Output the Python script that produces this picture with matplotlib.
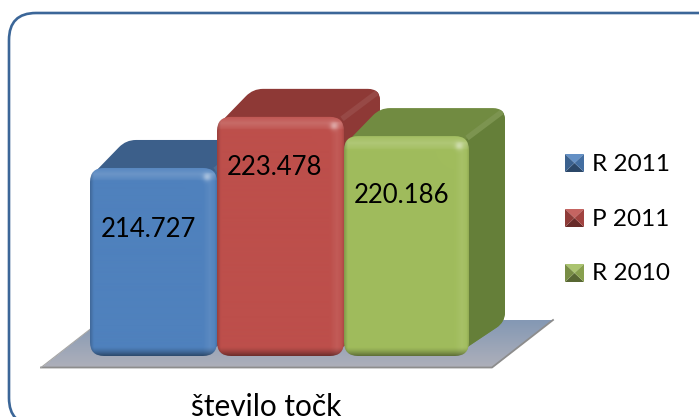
import numpy as np
import matplotlib
matplotlib.use('Agg')
import matplotlib.pyplot as plt
from matplotlib.patches import FancyBboxPatch, PathPatch, Polygon
from matplotlib.path import Path
from matplotlib.colors import to_rgb

plt.rcParams['font.family'] = ['Lato', 'DejaVu Sans']

category = 'število točk'
series = ['R 2011', 'P 2011', 'R 2010']
values = [214727, 223478, 220186]
value_labels = ['214.727', '223.478', '220.186']

front_cols = ['#4f81bd', '#bd4f4b', '#a0bc5c']
top_cols = ['#3c5f8a', '#8e3936', '#718b41']
side_cols = ['#3f6694', '#8e3936', '#657f39']

### The value axis is truncated: pixels per unit and the value at the bar foot
PX_PER_UNIT = 0.00584
BASE_VALUE = 182530
FOOT = 356
LEFT = [90, 217, 344]
WIDTH = [127, 127, 125]
DX, DY = 36, -28


def val_to_px(v):
    return FOOT - (v - BASE_VALUE) * PX_PER_UNIT


def rounded_path(pts, radii):
    ### Closed path through pts, corners rounded by quadratic curves
    verts, codes = [], []
    n = len(pts)
    for i in range(n):
        p = np.array(pts[i], float)
        a = np.array(pts[i - 1], float)
        b = np.array(pts[(i + 1) % n], float)
        r = radii[i]
        p1 = p + (a - p) / np.linalg.norm(a - p) * r
        p2 = p + (b - p) / np.linalg.norm(b - p) * r
        verts += [p1, p, p2]
        codes += [Path.MOVETO if i == 0 else Path.LINETO, Path.CURVE3, Path.CURVE3]
    verts.append(verts[0])
    codes.append(Path.CLOSEPOLY)
    return Path(verts, codes)


def lighter(col, f):
    c = np.array(to_rgb(col))
    return c + (1 - c) * f if f > 0 else c * (1 + f)


def draw_front(ax, x0, y0, w, h, col, zorder):
    ### Bevelled front face: shading from the distance to each edge
    xs = np.arange(0, w, 0.5) + 0.25
    ys = np.arange(0, h, 0.5) + 0.25
    X, Y = np.meshgrid(xs, ys)
    c = np.array(to_rgb(col))
    light = 0.13 * np.clip(1 - np.abs(Y - 7) / 7, 0, 1) + 0.03 * (Y < 13)
    light = light + 0.07 * np.clip(1 - np.abs(w - X - 7) / 7, 0, 1) * (Y > 6)
    dark = 0.42 * np.clip(1 - (h - Y) / 9, 0, 1) ** 1.4
    dark = dark + 0.20 * np.clip(1 - X / 4, 0, 1) + 0.10 * np.clip(1 - (w - X) / 2.5, 0, 1)
    spot = 0.34 * np.exp(-(((X - (w - 10)) / 4) ** 2 + ((Y - 10) / 4) ** 2))
    light = light + spot
    img = c[None, None, :] + (1 - c[None, None, :]) * np.clip(light, 0, 1)[..., None]
    img = img * (1 - np.clip(dark, 0, 1))[..., None]
    im = ax.imshow(np.clip(img, 0, 1), extent=(x0, x0 + w, y0 + h, y0), zorder=zorder,
                   interpolation='bilinear', aspect='auto')
    clip = FancyBboxPatch((x0 + 12, y0 + 12), w - 24, h - 24, boxstyle='round,pad=12,rounding_size=14',
                          transform=ax.transData, fc='none', ec='none', zorder=zorder)
    ax.add_patch(clip)
    im.set_clip_path(clip)


fig = plt.figure(figsize=(6.99, 4.17), dpi=100)
ax = fig.add_axes([0, 0, 1, 1])
ax.set_xlim(0, 699)
ax.set_ylim(417, 0)
ax.axis('off')

### Outer frame, its bottom and right edges run out of the picture
ax.add_patch(FancyBboxPatch((34, 38), 680, 362, boxstyle='round,pad=25,rounding_size=27',
                            fc='white', ec='#3b6698', lw=1.9, zorder=1))

### Floor
floor_pts = [(41, 368), (102, 320), (553, 320), (492, 368)]
grad = np.linspace(0, 1, 64)[:, None, None] * (np.array(to_rgb('#aeb0ba')) - np.array(to_rgb('#8498b4'))) + np.array(to_rgb('#8498b4'))
floor_im = ax.imshow(grad, extent=(41, 553, 368, 320), zorder=2, aspect='auto')
floor = Polygon(floor_pts, closed=True, fc='none', ec='none', zorder=2)
ax.add_patch(floor)
floor_im.set_clip_path(floor)
ax.plot([41, 492, 553], [367.5, 367.5, 320], color='#8d8d8d', lw=1.3, zorder=2.1)
ax.plot([41, 102], [367.5, 320], color='#a5a5a5', lw=0.8, zorder=2.1)
ax.set_xlim(0, 699)
ax.set_ylim(417, 0)

### Bars, back to front from left to right
for i, v in enumerate(values):
    x0, w = LEFT[i], WIDTH[i]
    top = val_to_px(v)
    z = 3 + i
    x1 = x0 + w
    ### silhouette of top and side faces behind the front face
    outline = [(x0 + 3, top + 6), (x0 + DX, top + DY), (x1 + DX, top + DY),
               (x1 + DX, FOOT + DY - 6), (x1 - 12, FOOT - 2), (x0 + 20, FOOT - 8)]
    body = PathPatch(rounded_path(outline, [4, 10, 12, 10, 2, 2]), fc=top_cols[i], ec='none', zorder=z)
    ax.add_patch(body)
    side_pts = [(x1 - 4, top + 4), (x1 + DX, top + DY + 1), (x1 + DX + 2, FOOT + DY), (x1 - 4, FOOT + 2)]
    side = Polygon(side_pts, closed=True, fc=side_cols[i], ec='none', zorder=z)
    ax.add_patch(side)
    side.set_clip_path(body)
    ridge, = ax.plot([x1 - 2, x1 + DX - 2], [top + 2, top + DY + 3], color=lighter(top_cols[i], 0.08),
                     lw=4, solid_capstyle='butt', zorder=z)
    ridge.set_clip_path(body)
    draw_front(ax, x0, top, w, FOOT - top, front_cols[i], z + 0.1)

### Value labels
label_pos = [(148, 229), (274, 167), (402, 195)]
for (lx, ly), s in zip(label_pos, value_labels):
    ax.text(lx, ly, s, ha='center', va='center', fontsize=18.5, color='black', zorder=10)

### Legend with pyramid markers
legend_y = [163, 218, 273]
for i, (name, ly) in enumerate(zip(series, legend_y)):
    xa, xb, ya, yb = 565, 584, ly - 9, ly + 9
    xc, yc = (xa + xb) / 2, (ya + yb) / 2
    col = front_cols[i]
    tris = [([(xa, ya), (xb, ya), (xc, yc)], lighter(col, 0.12)),
            ([(xa, yb), (xb, yb), (xc, yc)], lighter(col, -0.45)),
            ([(xa, ya), (xa, yb), (xc, yc)], lighter(col, -0.25)),
            ([(xb, ya), (xb, yb), (xc, yc)], lighter(col, -0.15))]
    for pts, c in tris:
        ax.add_patch(Polygon(pts, closed=True, fc=c, ec='none', zorder=10))
    ax.text(592, ly + 1, name, ha='left', va='center', fontsize=17.5, color='black', zorder=10)

### Category label, runs up to the lower edge as in the source
ax.text(266, 416, category, ha='center', va='baseline', fontsize=21.5, color='black', zorder=10)

fig.savefig('out.png', dpi=100)
